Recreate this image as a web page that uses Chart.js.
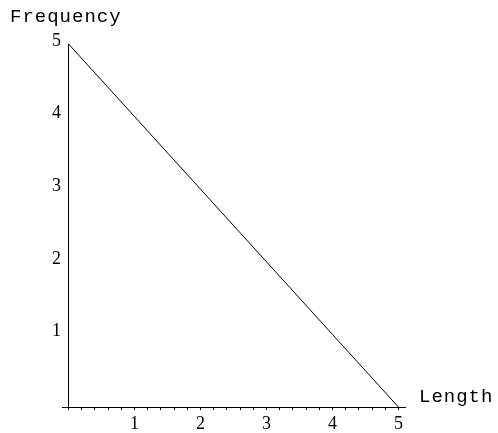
<!DOCTYPE html>
<html>
<head>
<meta charset="utf-8">
<script src="https://cdn.jsdelivr.net/npm/chart.js@4/dist/chart.umd.min.js"></script>
<style>
  html, body { margin: 0; padding: 0; background: #fff; }
  #wrap { width: 498px; height: 433px; }
</style>
</head>
<body>
<div id="wrap"><canvas id="c" width="498" height="433"></canvas></div>
<script>
const lengths = [0, 1, 2, 3, 4, 5];
const frequencies = [5, 4, 3, 2, 1, 0];
const xTickValues = [1, 2, 3, 4, 5];
const yTickValues = [1, 2, 3, 4, 5];
const xMinorStep = 0.2;
const xAxisTitle = 'Length';
const yAxisTitle = 'Frequency';

const points = lengths.map((x, i) => ({ x: x, y: frequencies[i] }));

const isMajor = v => xTickValues.some(t => Math.abs(t - v) < 1e-9);

const textPlugin = {
  id: 'axisTexts',
  afterDraw(chart) {
    const ctx = chart.ctx;
    const area = chart.chartArea;
    ctx.save();
    ctx.fillStyle = '#000';
    ctx.font = '19px "Liberation Mono", "DejaVu Sans Mono", monospace';
    try { ctx.letterSpacing = '1px'; } catch (e) {}
    ctx.textBaseline = 'alphabetic';
    ctx.textAlign = 'left';
    ctx.fillText(yAxisTitle, area.left - 52, area.top - 22);
    ctx.fillText(xAxisTitle, area.right + 14, area.bottom - 5);
    ctx.restore();
  }
};

new Chart(document.getElementById('c'), {
  type: 'scatter',
  data: {
    datasets: [{
      data: points,
      showLine: true,
      borderColor: '#000',
      borderWidth: 1,
      pointRadius: 0,
      pointHoverRadius: 0,
      tension: 0,
      fill: false
    }]
  },
  options: {
    responsive: false,
    animation: false,
    devicePixelRatio: 1,
    layout: { padding: { top: 44, right: 93, left: 0, bottom: 0 } },
    plugins: {
      legend: { display: false },
      tooltip: { enabled: false },
      title: { display: false }
    },
    scales: {
      x: {
        type: 'linear',
        position: 'bottom',
        min: -0.1,
        max: 5.1,
        afterBuildTicks(scale) {
          const ticks = [];
          const n = Math.round(5 / xMinorStep);
          for (let i = 0; i <= n; i++) ticks.push({ value: i / n * 5 });
          scale.ticks = ticks;
        },
        afterFit(scale) { scale.height = 26; },
        ticks: {
          autoSkip: false,
          maxRotation: 0,
          padding: 3,
          color: '#000',
          font: { family: '"Liberation Serif", "Times New Roman", serif', size: 18 },
          callback: (v) => isMajor(v) ? String(Math.round(v)) : ''
        },
        grid: {
          drawOnChartArea: true,
          drawTicks: true,
          tickLength: 3,
          color: (c) => (c.tick && Math.abs(c.tick.value) < 1e-9) ? '#000' : 'rgba(0,0,0,0)',
          tickColor: '#000',
          lineWidth: 1,
          tickWidth: 1
        },
        border: { display: true, color: '#000', width: 1 }
      },
      y: {
        type: 'linear',
        position: 'left',
        min: 0,
        max: 5,
        afterBuildTicks(scale) {
          scale.ticks = [0].concat(yTickValues).map(v => ({ value: v }));
        },
        afterFit(scale) { scale.width = 62; },
        ticks: {
          padding: 1,
          labelOffset: -3,
          color: '#000',
          font: { family: '"Liberation Serif", "Times New Roman", serif', size: 18 },
          callback: (v) => yTickValues.includes(v) ? String(v) : ''
        },
        grid: { display: false, drawTicks: false },
        border: { display: false }
      }
    }
  },
  plugins: [textPlugin]
});
</script>
</body>
</html>
